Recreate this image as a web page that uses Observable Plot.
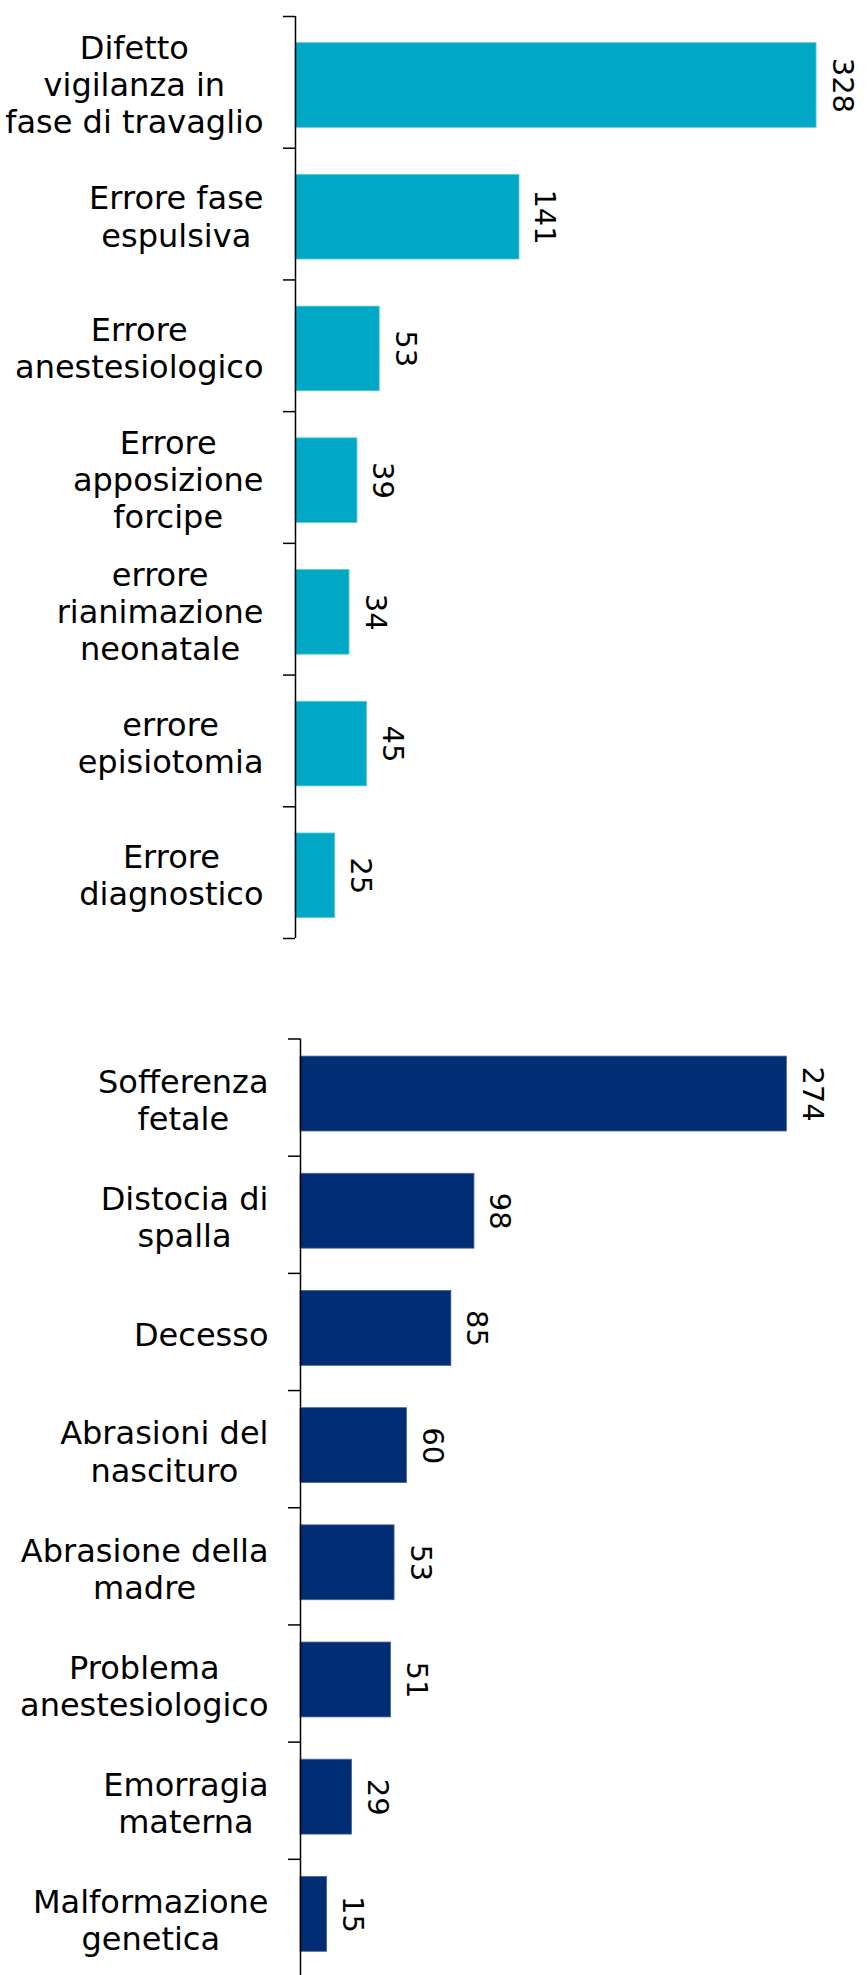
<!DOCTYPE html>
<html><head><meta charset="utf-8">
<script src="https://cdn.jsdelivr.net/npm/d3@7"></script>
<script src="https://cdn.jsdelivr.net/npm/@observablehq/plot@0.6"></script>
<style>
html,body{margin:0;padding:0;background:#fff;overflow:hidden;}
#chart svg{display:block;}
</style></head><body><div id="chart"></div>
<script>
const causeLabels = [
  "Difetto\nvigilanza in\nfase di travaglio",
  "Errore fase\nespulsiva",
  "Errore\nanestesiologico",
  "Errore\napposizione\nforcipe",
  "errore\nrianimazione\nneonatale",
  "errore\nepisiotomia",
  "Errore\ndiagnostico"
];
const causeValues = [328, 141, 53, 39, 34, 45, 25];

const outcomeLabels = [
  "Sofferenza\nfetale",
  "Distocia di\nspalla",
  "Decesso",
  "Abrasioni del\nnascituro",
  "Abrasione della\nmadre",
  "Problema\nanestesiologico",
  "Emorragia\nmaterna",
  "Malformazione\ngenetica"
];
const outcomeValues = [274, 98, 85, 60, 53, 51, 29, 15];

const causeColor = "#00A8C6";
const outcomeColor = "#002D74";

function makeChart(o) {
  const data = o.labels.map((label, i) => ({label, value: o.values[i], lo: i, hi: i + 1, mid: i + 0.5}));
  return Plot.plot({
    width: 867, height: o.height,
    marginTop: o.marginTop, marginBottom: o.marginBottom,
    marginLeft: o.marginLeft, marginRight: o.marginRight,
    style: {fontFamily: "'DejaVu Sans', Verdana, sans-serif", color: "#000", background: "#fff", overflow: "visible"},
    x: {domain: [0, o.xMax], axis: null},
    y: {domain: [0, o.labels.length], reverse: true, axis: null},
    marks: [
      Plot.rectX(data, {x: "value", y1: "lo", y2: "hi", insetTop: o.insetTop, insetBottom: o.insetBottom,
        fill: o.color, stroke: o.edge, strokeWidth: 0.8}),
      Plot.ruleX([0], {stroke: "#000", strokeWidth: 1.5}),
      Plot.axisY({ticks: d3.range(0, o.labels.length + 1), tickFormat: () => "", tickSize: 12,
        stroke: "#000", strokeWidth: 1.5, label: null}),
      Plot.text(data, {x: "value", y: "mid", text: d => String(d.value), rotate: 90, lineAnchor: "bottom",
        dx: 16, dy: o.barShift, fontSize: 29, fill: "#000"}),
      Plot.text(data, {x: 0, y: "mid", text: "label", textAnchor: "end", dx: -32, dy: 2,
        lineHeight: 1.16, fontSize: 32, fill: "#000"})
    ]
  });
}

const container = document.getElementById("chart");
container.append(makeChart({
  labels: causeLabels, values: causeValues, color: causeColor, edge: "#5cc8dc",
  height: 1000, marginTop: 16, marginBottom: 62, marginLeft: 295, marginRight: 16,
  xMax: 350, insetTop: 26.7, insetBottom: 20.4, barShift: 3
}));
container.append(makeChart({
  labels: outcomeLabels, values: outcomeValues, color: outcomeColor, edge: "#4a6398",
  height: 990, marginTop: 38.5, marginBottom: 14, marginLeft: 300, marginRight: 34.5,
  xMax: 300, insetTop: 17.6, insetBottom: 24.7, barShift: -3.5
}));

// center the lines of each multi-line category label within its right-aligned block
document.querySelectorAll("#chart svg text").forEach(t => {
  const spans = t.querySelectorAll("tspan");
  if (spans.length < 2) return;
  const widths = Array.from(spans, s => s.getComputedTextLength());
  const maxW = Math.max(...widths);
  spans.forEach((s, i) => s.setAttribute("x", String(-(maxW - widths[i]) / 2)));
});
</script>
</body></html>
